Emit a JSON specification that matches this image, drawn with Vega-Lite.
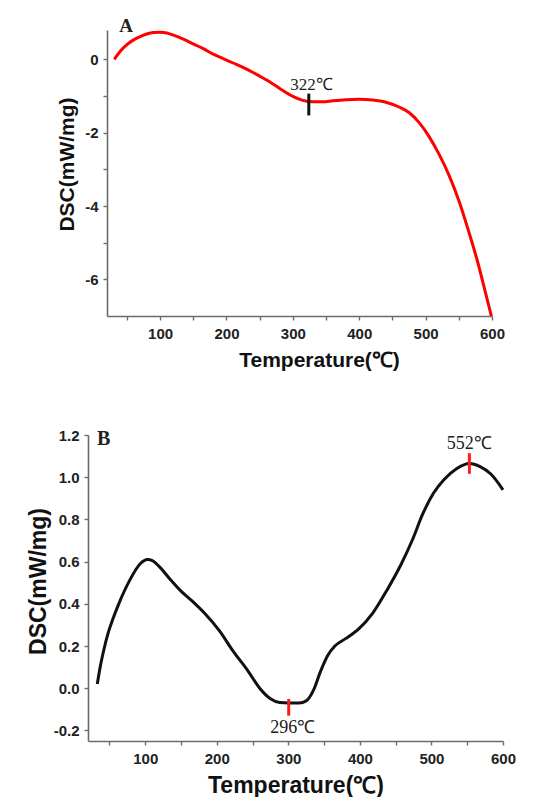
{
  "$schema": "https://vega.github.io/schema/vega-lite/v6.json",
  "background": "white",
  "padding": {"left": 26, "top": 16, "right": 0, "bottom": 0},
  "columns": 1,
  "spacing": 58,
  "config": {
    "view": {"stroke": null},
    "axis": {
      "grid": false,
      "domainColor": "#6b6b6b",
      "domainWidth": 1.6,
      "tickColor": "#6b6b6b",
      "tickWidth": 1.4,
      "tickSize": 4,
      "labelFont": "Liberation Sans",
      "labelFontWeight": "bold",
      "labelFontSize": 15,
      "labelColor": "#222222",
      "titleFont": "Liberation Sans",
      "titleFontWeight": "bold",
      "titleColor": "#111111"
    }
  },
  "datasets": {
    "curveA": [
      {"T": 31, "DSC": 0.0}, {"T": 40, "DSC": 0.22}, {"T": 50, "DSC": 0.40}, {"T": 60, "DSC": 0.53},
      {"T": 70, "DSC": 0.62}, {"T": 80, "DSC": 0.69}, {"T": 90, "DSC": 0.73}, {"T": 100, "DSC": 0.74},
      {"T": 110, "DSC": 0.72}, {"T": 120, "DSC": 0.66}, {"T": 135, "DSC": 0.55}, {"T": 150, "DSC": 0.42},
      {"T": 165, "DSC": 0.29}, {"T": 180, "DSC": 0.14}, {"T": 195, "DSC": 0.02}, {"T": 210, "DSC": -0.10},
      {"T": 225, "DSC": -0.22}, {"T": 240, "DSC": -0.36}, {"T": 255, "DSC": -0.51}, {"T": 270, "DSC": -0.67},
      {"T": 285, "DSC": -0.85}, {"T": 300, "DSC": -1.01}, {"T": 315, "DSC": -1.12}, {"T": 330, "DSC": -1.16},
      {"T": 345, "DSC": -1.16}, {"T": 360, "DSC": -1.13}, {"T": 380, "DSC": -1.10}, {"T": 400, "DSC": -1.09},
      {"T": 420, "DSC": -1.11}, {"T": 440, "DSC": -1.17}, {"T": 460, "DSC": -1.30}, {"T": 475, "DSC": -1.45},
      {"T": 490, "DSC": -1.72}, {"T": 505, "DSC": -2.10}, {"T": 520, "DSC": -2.58}, {"T": 535, "DSC": -3.15},
      {"T": 550, "DSC": -3.85}, {"T": 565, "DSC": -4.70}, {"T": 578, "DSC": -5.50}, {"T": 590, "DSC": -6.35},
      {"T": 599, "DSC": -7.0}
    ],
    "curveB": [
      {"T": 33, "DSC": 0.02}, {"T": 37, "DSC": 0.10}, {"T": 42, "DSC": 0.18}, {"T": 48, "DSC": 0.26},
      {"T": 55, "DSC": 0.33}, {"T": 63, "DSC": 0.40}, {"T": 78, "DSC": 0.51}, {"T": 93, "DSC": 0.59},
      {"T": 103, "DSC": 0.61}, {"T": 110, "DSC": 0.605}, {"T": 120, "DSC": 0.575}, {"T": 135, "DSC": 0.515},
      {"T": 150, "DSC": 0.46}, {"T": 165, "DSC": 0.415}, {"T": 183, "DSC": 0.355}, {"T": 203, "DSC": 0.275},
      {"T": 223, "DSC": 0.175}, {"T": 243, "DSC": 0.085}, {"T": 260, "DSC": 0.0}, {"T": 275, "DSC": -0.05},
      {"T": 288, "DSC": -0.068}, {"T": 300, "DSC": -0.07}, {"T": 315, "DSC": -0.07}, {"T": 325, "DSC": -0.06},
      {"T": 335, "DSC": -0.01}, {"T": 345, "DSC": 0.08}, {"T": 355, "DSC": 0.155}, {"T": 365, "DSC": 0.20},
      {"T": 380, "DSC": 0.235}, {"T": 398, "DSC": 0.28}, {"T": 418, "DSC": 0.356}, {"T": 438, "DSC": 0.466},
      {"T": 458, "DSC": 0.59}, {"T": 473, "DSC": 0.70}, {"T": 488, "DSC": 0.827}, {"T": 503, "DSC": 0.925},
      {"T": 518, "DSC": 0.99}, {"T": 535, "DSC": 1.04}, {"T": 553, "DSC": 1.065}, {"T": 568, "DSC": 1.05},
      {"T": 583, "DSC": 1.015}, {"T": 600, "DSC": 0.94}
    ]
  },
  "concat": [
    {
      "spacing": 0,
      "hconcat": [
        {
          "width": 30,
          "height": 10,
          "data": {"values": []},
          "mark": {"type": "point", "opacity": 0},
          "encoding": {}
        },
        {
          "width": 385,
          "height": 286,
          "resolve": {"axis": {"x": "independent"}},
          "layer": [
            {
              "data": {"name": "curveA"},
              "mark": {"type": "line", "color": "#ff0000", "strokeWidth": 3, "interpolate": "monotone"},
              "encoding": {
                "x": {
                  "field": "T", "type": "quantitative",
                  "scale": {"domain": [20, 600], "nice": false, "zero": false},
                  "axis": {
                    "orient": "bottom",
                    "title": "Temperature(℃)",
                    "titleFontSize": 21,
                    "titlePadding": 8,
                    "titleX": 212,
                    "labelPadding": 6,
                    "labelOverlap": false,
                    "labelFlush": false,
                    "values": [100, 200, 300, 400, 500, 600]
                  }
                },
                "y": {
                  "field": "DSC", "type": "quantitative",
                  "scale": {"domain": [-7, 0.8], "nice": false, "zero": false},
                  "axis": {
                    "title": "DSC(mW/mg)",
                    "titleFontSize": 21,
                    "titlePadding": 7,
                    "titleY": 134,
                    "labelPadding": 5,
                    "labelOverlap": false,
                    "labelFlush": false,
                    "values": [-6, -5, -4, -3, -2, -1, 0],
                    "labelExpr": "datum.value % 2 === 0 ? (datum.value < 0 ? '-' : '') + format(abs(datum.value), 'd') : ''"
                  }
                }
              }
            },
            {
              "data": {"values": [{"T": 324, "lo": -0.935, "hi": -1.53}]},
              "mark": {"type": "rule", "color": "#111111", "strokeWidth": 3},
              "encoding": {
                "x": {
                  "field": "T", "type": "quantitative",
                  "axis": {"orient": "bottom", "values": [50, 150, 250, 350, 450, 550], "labels": false, "title": null, "domain": false}
                },
                "y": {"field": "lo", "type": "quantitative"},
                "y2": {"field": "hi"}
              }
            },
            {
              "data": {"values": [{"T": 328, "DSC": -0.845, "label": "322℃"}]},
              "mark": {"type": "text", "font": "Liberation Serif", "fontSize": 17, "color": "#222222", "align": "center", "baseline": "alphabetic"},
              "encoding": {
                "x": {"field": "T", "type": "quantitative", "axis": null},
                "y": {"field": "DSC", "type": "quantitative"},
                "text": {"field": "label"}
              }
            },
            {
              "data": {"values": [{"T": 38.5, "DSC": 0.755, "label": "A"}]},
              "mark": {"type": "text", "font": "Liberation Serif", "fontWeight": "bold", "fontSize": 19, "color": "#222222", "align": "left", "baseline": "alphabetic"},
              "encoding": {
                "x": {"field": "T", "type": "quantitative", "axis": null},
                "y": {"field": "DSC", "type": "quantitative"},
                "text": {"field": "label"}
              }
            }
          ]
        }
      ]
    },
    {
      "spacing": 0,
      "hconcat": [
        {
          "width": 1,
          "height": 10,
          "data": {"values": []},
          "mark": {"type": "point", "opacity": 0},
          "encoding": {}
        },
        {
          "width": 415,
          "height": 306,
          "layer": [
            {
              "data": {"name": "curveB"},
              "mark": {"type": "line", "color": "#111111", "strokeWidth": 3, "interpolate": "monotone"},
              "encoding": {
                "x": {
                  "field": "T", "type": "quantitative",
                  "scale": {"domain": [20, 600], "nice": false, "zero": false},
                  "axis": {
                    "title": "Temperature(℃)",
                    "titleFontSize": 23,
                    "titlePadding": 8,
                    "labelPadding": 6,
                    "labelOverlap": false,
                    "labelFlush": false,
                    "tickCount": 12,
                    "labelExpr": "datum.value % 100 ? '' : datum.label"
                  }
                },
                "y": {
                  "field": "DSC", "type": "quantitative",
                  "scale": {"domain": [-0.25, 1.2], "nice": false, "zero": false},
                  "axis": {
                    "title": "DSC(mW/mg)",
                    "titleFontSize": 23,
                    "titlePadding": 3,
                    "titleY": 146,
                    "labelPadding": 5,
                    "labelOverlap": false,
                    "labelFlush": false,
                    "values": [-0.2, -0.1, 0, 0.1, 0.2, 0.3, 0.4, 0.5, 0.6, 0.7, 0.8, 0.9, 1.0, 1.1, 1.2],
                    "labelExpr": "round(datum.value * 10) % 2 === 0 ? (datum.value < -0.001 ? '-' : '') + format(abs(datum.value), '.1f') : ''"
                  }
                }
              }
            },
            {
              "data": {"values": [{"T": 300.5, "lo": -0.051, "hi": -0.13}, {"T": 553, "lo": 1.016, "hi": 1.114}]},
              "mark": {"type": "rule", "color": "#ff1a1a", "strokeWidth": 3},
              "encoding": {
                "x": {"field": "T", "type": "quantitative"},
                "y": {"field": "lo", "type": "quantitative"},
                "y2": {"field": "hi"}
              }
            },
            {
              "data": {"values": [{"T": 306, "DSC": -0.212, "label": "296℃"}, {"T": 553, "DSC": 1.134, "label": "552℃"}]},
              "mark": {"type": "text", "font": "Liberation Serif", "fontSize": 18, "color": "#222222", "align": "center", "baseline": "alphabetic"},
              "encoding": {
                "x": {"field": "T", "type": "quantitative"},
                "y": {"field": "DSC", "type": "quantitative"},
                "text": {"field": "label"}
              }
            },
            {
              "data": {"values": [{"T": 32.6, "DSC": 1.154, "label": "B"}]},
              "mark": {"type": "text", "font": "Liberation Serif", "fontWeight": "bold", "fontSize": 20, "color": "#222222", "align": "left", "baseline": "alphabetic"},
              "encoding": {
                "x": {"field": "T", "type": "quantitative"},
                "y": {"field": "DSC", "type": "quantitative"},
                "text": {"field": "label"}
              }
            }
          ]
        }
      ]
    }
  ]
}
